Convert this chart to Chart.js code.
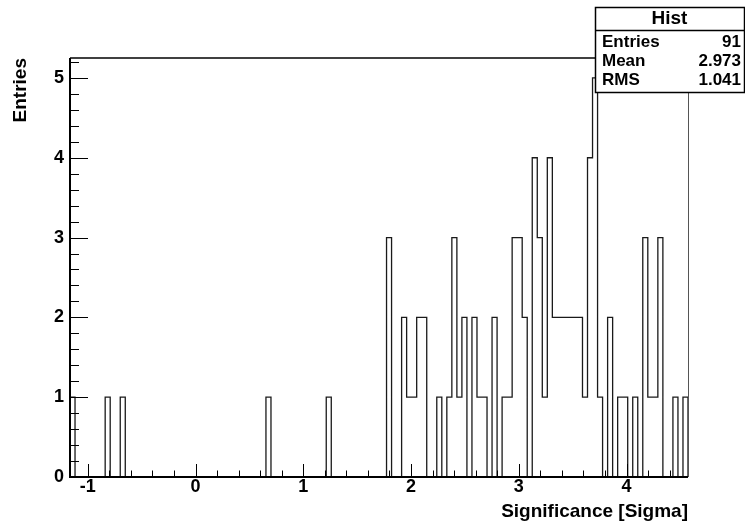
<!DOCTYPE html>
<html>
<head>
<meta charset="utf-8">
<script src="https://cdn.jsdelivr.net/npm/chart.js@4.4.0/dist/chart.umd.min.js"></script>
<style>
  html, body { margin: 0; padding: 0; background: #fff; }
</style>
</head>
<body>
<canvas id="sigHist" width="745" height="525"></canvas>
<script>
// binning of the significance histogram
const xLow = -1.165;
const binWidth = 0.04663;

// entries per bin, 123 bins starting at xLow
const binCounts = [
  1, 0, 0, 0, 0, 0, 0, 1, 0, 0,
  1, 0, 0, 0, 0, 0, 0, 0, 0, 0,
  0, 0, 0, 0, 0, 0, 0, 0, 0, 0,
  0, 0, 0, 0, 0, 0, 0, 0, 0, 1,
  0, 0, 0, 0, 0, 0, 0, 0, 0, 0,
  0, 1, 0, 0, 0, 0, 0, 0, 0, 0,
  0, 0, 0, 3, 0, 0, 2, 1, 1, 2,
  2, 0, 0, 1, 0, 1, 3, 1, 2, 0,
  2, 1, 1, 0, 2, 0, 1, 1, 3, 3,
  2, 0, 4, 3, 1, 4, 2, 2, 2, 2,
  2, 2, 1, 4, 5, 1, 0, 2, 0, 1,
  1, 0, 1, 0, 3, 1, 1, 3, 0, 0,
  1, 0, 1
];

const xTickValues = [-1, 0, 1, 2, 3, 4];
const yTickValues = [0, 1, 2, 3, 4, 5];

const statNames = ['Entries', 'Mean', 'RMS'];
const statValues = ['91', '2.973', '1.041'];
const histName = 'Hist';
const xTitle = 'Significance [Sigma]';
const yTitle = 'Entries';

const xHigh = xLow + binCounts.length * binWidth;
const yMax = Math.max(...binCounts) * 1.05;

// outline points: left edge of every bin, closed down to zero at both ends
const outline = [{ x: xLow, y: 0 }];
binCounts.forEach((c, i) => outline.push({ x: xLow + i * binWidth, y: c }));
outline.push({ x: xHigh, y: 0 });

const FONT = "'Liberation Sans', Arial, Helvetica, sans-serif";

// frame, inward tick marks and the stats box
const rootStyle = {
  id: 'rootStyle',
  afterDatasetsDraw(chart) {
    const { ctx, chartArea: a, scales: { x, y } } = chart;
    ctx.save();

    // ticks: 5 subdivisions per unit
    ctx.strokeStyle = '#000';
    ctx.lineWidth = 1;
    ctx.beginPath();
    for (let i = Math.ceil(x.min * 5); i <= Math.floor(x.max * 5); i++) {
      const px = Math.round(x.getPixelForValue(i / 5)) + 0.5;
      const len = i % 5 === 0 ? 13 : 6.5;
      ctx.moveTo(px, a.bottom);
      ctx.lineTo(px, a.bottom - len);
    }
    for (let i = 0; i <= Math.floor(y.max * 5); i++) {
      const py = Math.round(y.getPixelForValue(i / 5)) + 0.5;
      const len = i % 5 === 0 ? 18 : 9;
      ctx.moveTo(a.left, py);
      ctx.lineTo(a.left + len, py);
    }
    ctx.stroke();

    // frame
    ctx.lineWidth = 2;
    ctx.strokeStyle = '#000';
    ctx.beginPath();
    ctx.moveTo(a.left, a.top);
    ctx.lineTo(a.left, a.bottom);
    ctx.lineTo(a.right, a.bottom);
    ctx.stroke();
    ctx.lineWidth = 1.5;
    ctx.beginPath();
    ctx.moveTo(a.left, a.top);
    ctx.lineTo(a.right, a.top);
    ctx.stroke();
    ctx.lineWidth = 1;
    ctx.strokeStyle = '#555';
    ctx.beginPath();
    ctx.moveTo(a.right + 0.5, a.top);
    ctx.lineTo(a.right + 0.5, a.bottom);
    ctx.stroke();

    // stats box
    const bx = 595, by = 7, bw = 149, bh = 85;
    ctx.fillStyle = '#fff';
    ctx.fillRect(bx, by, bw, bh);
    ctx.strokeStyle = '#000';
    ctx.lineWidth = 1.5;
    ctx.strokeRect(bx + 0.5, by + 0.5, bw, bh);
    ctx.beginPath();
    ctx.moveTo(bx, by + 23.5);
    ctx.lineTo(bx + bw, by + 23.5);
    ctx.stroke();

    ctx.fillStyle = '#000';
    ctx.textBaseline = 'middle';
    ctx.font = `bold 19px ${FONT}`;
    ctx.textAlign = 'center';
    ctx.fillText(histName, bx + bw / 2, by + 12);
    ctx.font = `bold 17px ${FONT}`;
    statNames.forEach((name, i) => {
      const ty = by + 35 + i * 19;
      ctx.textAlign = 'left';
      ctx.fillText(name, bx + 7, ty);
      ctx.textAlign = 'right';
      ctx.fillText(statValues[i], bx + bw - 3, ty);
    });
    ctx.restore();
  }
};

new Chart(document.getElementById('sigHist'), {
  type: 'line',
  data: {
    datasets: [{
      data: outline,
      stepped: true,
      borderColor: '#1a1a1a',
      borderWidth: 1.3,
      pointRadius: 0,
      fill: false
    }]
  },
  plugins: [rootStyle],
  options: {
    responsive: false,
    animation: false,
    devicePixelRatio: 1,
    layout: { padding: { top: 58, right: 57, bottom: 0, left: 0 } },
    plugins: {
      legend: { display: false },
      tooltip: { enabled: false }
    },
    scales: {
      x: {
        type: 'linear',
        min: xLow,
        max: xHigh,
        bounds: 'data',
        afterBuildTicks(scale) { scale.ticks = xTickValues.map(v => ({ value: v })); },
        afterFit(scale) { scale.height = 48; },
        grid: { display: false, drawTicks: false },
        border: { display: false },
        ticks: {
          autoSkip: false,
          maxRotation: 0,
          padding: 1,
          color: '#000',
          font: { family: FONT, size: 18, weight: 'bold', lineHeight: 1 }
        },
        title: {
          display: true,
          text: xTitle,
          align: 'end',
          color: '#000',
          font: { family: FONT, size: 19, weight: 'bold' },
          padding: { top: 0, bottom: 2 }
        }
      },
      y: {
        min: 0,
        max: yMax,
        bounds: 'data',
        afterBuildTicks(scale) { scale.ticks = yTickValues.map(v => ({ value: v })); },
        afterFit(scale) { scale.width = 70; },
        grid: { display: false, drawTicks: false },
        border: { display: false },
        ticks: {
          padding: 6,
          color: '#000',
          font: { family: FONT, size: 18, weight: 'bold' }
        },
        title: {
          display: true,
          text: yTitle,
          align: 'end',
          color: '#000',
          font: { family: FONT, size: 19, weight: 'bold' },
          padding: { top: 9, bottom: 0 }
        }
      }
    }
  }
});
</script>
</body>
</html>
